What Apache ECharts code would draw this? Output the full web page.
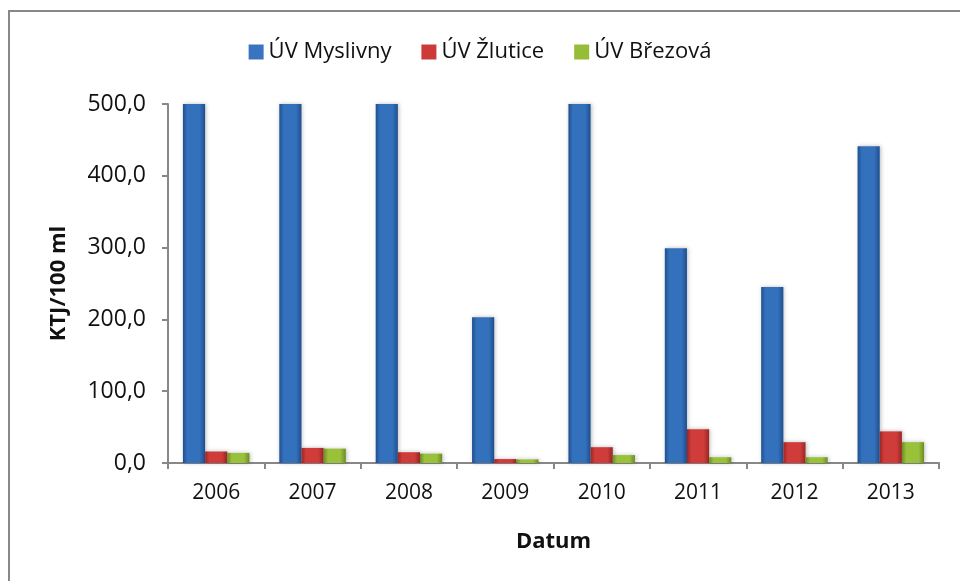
<!DOCTYPE html>
<html><head><meta charset="utf-8">
<script src="https://cdn.jsdelivr.net/npm/echarts@6/dist/echarts.min.js"></script>
<style>html,body{margin:0;padding:0;background:#fff}#c{width:960px;height:581px}</style>
</head><body><div id="c"></div>
<script>
const categories = ['2006','2007','2008','2009','2010','2011','2012','2013'];
const seriesNames = ['ÚV Myslivny','ÚV Žlutice','ÚV Březová'];
const myslivny = [600, 600, 600, 203, 600, 299, 245, 441];
const zlutice = [16, 21, 15, 5.5, 22, 47, 29, 44];
const brezova = [14, 20, 13, 5, 11, 8, 8, 29];
const yTicks = [0, 100, 200, 300, 400, 500];

const font = 'Open Sans';
function grad(edge, mid) {
  return new echarts.graphic.LinearGradient(0, 0, 1, 0, [
    {offset: 0, color: edge}, {offset: 0.2, color: mid}, {offset: 0.75, color: mid}, {offset: 1, color: edge}
  ]);
}
const colors = [grad('#1f4f8f', '#3471bd'), grad('#9a2624', '#d03c3a'), grad('#6c8c22', '#99c13a')];
const legendColors = ['#3a74c0', '#cc3b39', '#95bd38'];
const data = [myslivny, zlutice, brezova];

const chart = echarts.init(document.getElementById('c'));
chart.setOption({
  animation: false,
  graphic: [{type: 'polyline', shape: {points: [[9, 590], [9, 11], [970, 11]]}, style: {stroke: '#888', lineWidth: 2, fill: null}}],
  legend: {
    top: 36, left: 'center', itemGap: 30, itemWidth: 15, itemHeight: 15,
    textStyle: {fontFamily: font, fontSize: 22, color: '#111'},
    data: seriesNames.map((n, i) => ({name: n, icon: 'rect', itemStyle: {color: legendColors[i]}}))
  },
  grid: {left: 168, right: 21, top: 104, bottom: 118, containLabel: false},
  xAxis: {
    type: 'category', data: categories,
    name: 'Datum', nameLocation: 'middle', nameGap: 68,
    nameTextStyle: {fontFamily: font, fontSize: 22, fontWeight: 'bold', color: '#111'},
    axisLine: {lineStyle: {color: '#888', width: 2}},
    axisTick: {show: true, length: 6, lineStyle: {color: '#888', width: 2}},
    axisLabel: {fontFamily: font, fontSize: 21, color: '#111', margin: 20}
  },
  yAxis: {
    type: 'value', min: 0, max: 500, interval: 100,
    name: 'KTJ/100 ml', nameLocation: 'middle', nameGap: 98, nameRotate: 90,
    nameTextStyle: {fontFamily: font, fontSize: 22, fontWeight: 'bold', color: '#111'},
    axisLine: {show: true, lineStyle: {color: '#888', width: 2}},
    axisTick: {show: true, length: 6, lineStyle: {color: '#888', width: 2}},
    splitLine: {show: false},
    axisLabel: {fontFamily: font, fontSize: 23, color: '#111', margin: 22,
      formatter: v => yTicks.includes(v) ? v.toFixed(1).replace('.', ',') : ''}
  },
  series: seriesNames.map((n, i) => ({
    name: n, type: 'bar', data: data[i], barGap: '0%', barCategoryGap: '31%',
    clip: true,
    itemStyle: {color: colors[i], shadowColor: 'rgba(0,0,0,0.25)', shadowBlur: 4, shadowOffsetX: 1}
  }))
});
</script></body></html>
